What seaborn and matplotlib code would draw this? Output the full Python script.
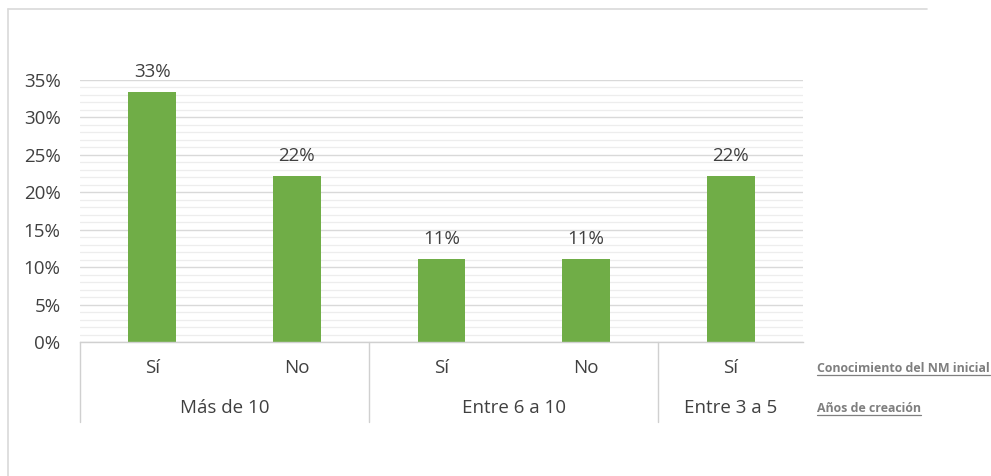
import matplotlib
matplotlib.use("Agg")
import matplotlib.pyplot as plt
import matplotlib.transforms as mtransforms
from matplotlib.lines import Line2D
from matplotlib.ticker import MultipleLocator, FuncFormatter
import seaborn as sns
import pandas as pd

# ---- data ----
conocimiento = ["Sí", "No", "Sí", "No", "Sí"]
anios = ["Más de 10", "Más de 10", "Entre 6 a 10", "Entre 6 a 10", "Entre 3 a 5"]
valores = [1/3, 2/9, 1/9, 1/9, 2/9]
grupos = ["Más de 10", "Entre 6 a 10", "Entre 3 a 5"]
titulo_fila1 = "Conocimiento del NM inicial"
titulo_fila2 = "Años de creación"

sns.set_theme(style="white")
plt.rcParams["font.family"] = ["Open Sans", "DejaVu Sans"]

TXT = "#404040"
GREEN = "#70AD47"
FS = 13.5

df = pd.DataFrame({"key": [f"{i}" for i in range(len(valores))],
                   "conocimiento": conocimiento, "anios": anios, "valor": valores})

fig = plt.figure(figsize=(9.91, 4.76), dpi=100)
ax = fig.add_axes([80/991, 1-342/476, (803-80)/991, (342-80)/476])

sns.barplot(data=df, x="key", y="valor", color=GREEN, width=0.33, ax=ax,
            saturation=1, edgecolor="none")

ax.set_ylim(0, 0.35)
ax.set_xlim(-0.5, len(valores) - 0.5)
ax.yaxis.set_major_locator(MultipleLocator(0.05))
ax.yaxis.set_minor_locator(MultipleLocator(0.01))
ax.yaxis.set_major_formatter(FuncFormatter(lambda v, p: f"{v*100:.0f}%"))
ax.grid(which="major", axis="y", color="#D9D9D9", linewidth=1.0)
ax.grid(which="minor", axis="y", color="#EDEDED", linewidth=0.9)
ax.set_axisbelow(True)
for s in ["top", "right", "left"]:
    ax.spines[s].set_visible(False)
ax.spines["bottom"].set_color("#D0D0D0")
ax.spines["bottom"].set_linewidth(1.0)
ax.tick_params(axis="y", which="both", length=0, labelsize=FS, labelcolor=TXT, pad=14)
ax.tick_params(axis="x", length=0)
ax.set_xticks(range(len(valores)))
ax.set_xticklabels([])
ax.set_xlabel("")
ax.set_ylabel("")

# data labels
for c in ax.containers:
    ax.bar_label(c, labels=[f"{v*100:.0f}%" for v in c.datavalues],
                 padding=8, fontsize=FS, color=TXT)

# multi-level category axis
trans = mtransforms.blended_transform_factory(ax.transData, ax.transAxes)
ax_h = (342-80)
def ypx(px_below):
    return -px_below / ax_h

for i, lab in enumerate(conocimiento):
    ax.text(i, ypx(26), lab, transform=trans, ha="center", va="center",
            fontsize=FS, color=TXT)

# group boundaries
bounds = [-0.5]
for i in range(1, len(anios)):
    if anios[i] != anios[i-1]:
        bounds.append(i - 0.5)
ends = bounds[1:] + [len(anios) - 0.5]
for g, (a, b) in zip(grupos, zip(bounds, ends)):
    ax.text((a + b) / 2, ypx(66), g, transform=trans, ha="center", va="center",
            fontsize=FS, color=TXT)
for bx in bounds:
    ax.add_line(Line2D([bx, bx], [0, ypx(80)], transform=trans, color="#D0D0D0",
                       linewidth=1.0, clip_on=False))

# right-side row titles (bold, underlined)
rt = []
for txt, py in [(titulo_fila1, 368), (titulo_fila2, 408)]:
    t = fig.text(817/991, 1-py/476, txt, ha="left", va="center", fontsize=8.9,
                 fontweight="bold", color="#7F7F7F")
    rt.append(t)

# outer frame
fig.add_artist(Line2D([8/991, 927/991], [1-9/476, 1-9/476], color="#D9D9D9", linewidth=1.2))
fig.add_artist(Line2D([8/991, 8/991], [1-9/476, 0], color="#D9D9D9", linewidth=1.2))

fig.canvas.draw()
r = fig.canvas.get_renderer()
for t in rt:
    bb = t.get_window_extent(r).transformed(fig.transFigure.inverted())
    fig.add_artist(Line2D([bb.x0, bb.x1], [bb.y0 - 0.002, bb.y0 - 0.002],
                          color="#7F7F7F", linewidth=0.9))

fig.savefig("out.png", dpi=100, facecolor="white")
